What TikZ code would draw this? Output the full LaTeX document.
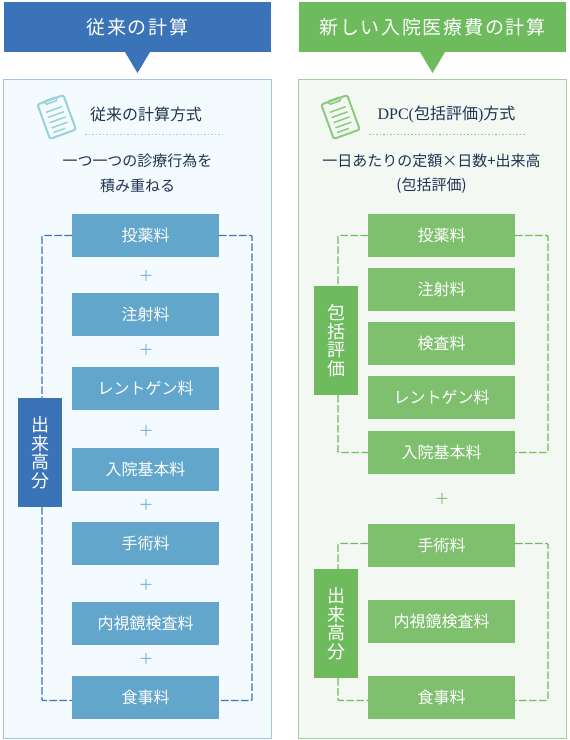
\documentclass[tikz,border=0pt]{standalone}
\usepackage{fontspec}
\setmainfont{Noto Sans CJK JP}
\newfontfamily\latinserif{Liberation Serif}
\definecolor{bluehead}{HTML}{3B73B9}
\definecolor{bluebox}{HTML}{62A7CB}
\definecolor{bluepanel}{HTML}{F3FBFF}
\definecolor{blueline}{HTML}{A6C2E0}
\definecolor{blueplus}{HTML}{6FB3D5}
\definecolor{blueicon}{HTML}{97D2D8}
\definecolor{greenhead}{HTML}{6DBB5D}
\definecolor{greenbox}{HTML}{7FC06E}
\definecolor{greenpanel}{HTML}{F3F8F3}
\definecolor{greenline}{HTML}{A3D096}
\definecolor{greenicon}{HTML}{8CCB7F}
\definecolor{inktext}{HTML}{1F3350}
\begin{document}
\begin{tikzpicture}[x=1pt, y=-1pt]

      \tikzset{panel/.style = {shape=rectangle,draw,line width=1pt,minimum width=268pt,minimum height=659pt,inner sep=0pt}}
      \tikzset{headbox/.style = {shape=rectangle,minimum width=267pt,minimum height=50pt,inner sep=0pt,text=white,font=\fontsize{19}{19}\selectfont\addfontfeature{LetterSpace=9}}}
      \tikzset{item/.style = {shape=rectangle,minimum width=147pt,minimum height=43pt,inner sep=0pt,text=white,font=\fontsize{16}{16}\selectfont}}
      \tikzset{badge/.style = {shape=rectangle,minimum width=44pt,minimum height=109pt,inner sep=0pt,text=white,align=center,font=\fontsize{18}{18.5}\selectfont}}
      \tikzset{plus/.style = {inner sep=0pt,font=\fontsize{15}{15}\selectfont}}
      \tikzset{caption/.style = {inner sep=0pt,text=inktext,font=\fontsize{15}{15}\selectfont}}
      \tikzset{rail/.style = {line width=1.4pt,dash pattern=on 7.5pt off 2.5pt,rounded corners=1pt}}
      \tikzset{clipboard/.pic = {
        \draw[line width=2pt,rounded corners=2pt] (-13.8,-18.3) rectangle (13.8,18.3);
        \draw[line width=1.6pt,rounded corners=1pt] (-6,-19) rectangle (6,-15.5);
        \foreach \y in {-8,-2.5,3,8.5}
          \draw[line width=1.5pt] (-8.5,\y) -- (8.5,\y);
        \draw[line width=1.5pt] (-8.5,13.5) -- (4,13.5);
      }}

      \useasboundingbox (0,0) rectangle (570,740);

      % panels
      \node[panel,draw=blueline,fill=bluepanel] (oldpanel) at (137.5,409) {};
      \node[panel,draw=greenline,fill=greenpanel] (newpanel) at (432.5,409) {};
      % headers
      \node[headbox,fill=bluehead] (oldhead) at (137.5,27) {従来の計算};
      \node[headbox,fill=greenhead] (newhead) at (432.5,27) {新しい入院医療費の計算};
      \fill[bluehead] (125,52) -- (150,52) -- (137.5,73) -- cycle;
      \fill[greenhead] (420,52) -- (445,52) -- (432.5,73) -- cycle;
      % icons
      \pic[draw=blueicon,rotate=20] at (56.7,117) {clipboard};
      \pic[draw=greenicon,rotate=20] at (340.5,117) {clipboard};
      % captions
      \node[caption,font=\fontsize{16}{16}\selectfont] (oldtitle) at (146,114) {従来の計算方式};
      \node[caption,font=\fontsize{16}{16}\selectfont] (newtitle) at (446.5,114) {{\latinserif DPC(}包括評価{\latinserif )}方式};
      \coordinate (olddotl) at (85,134.5);
      \coordinate (olddotr) at (222,134.5);
      \coordinate (newdotl) at (369,134.5);
      \coordinate (newdotr) at (526,134.5);
      \draw[blueicon,line width=1.6pt,dash pattern=on 1.6pt off 1.9pt] (olddotl) -- (olddotr);
      \draw[greenicon,line width=1.6pt,dash pattern=on 1.6pt off 1.9pt] (newdotl) -- (newdotr);
      \node[caption] (oldlinea) at (137.5,161) {一つ一つの診療行為を};
      \node[caption] (oldlineb) at (137.5,186) {積み重ねる};
      \node[caption] (newlinea) at (431.5,161) {一日あたりの定額×日数+出来高};
      \node[caption] (newlineb) at (431.5,186) {(包括評価)};

      % rails
      \coordinate (oldrail) at (252,235.5);
      \coordinate (newrailtop) at (548,235.5);
      \coordinate (newrailbot) at (548,543.5);

      % left items
      \node[item,fill=bluebox] (oldmed) at (145.5,235.5) {投薬料};
      \node[item,fill=bluebox] (oldinj) at (145.5,314.5) {注射料};
      \node[item,fill=bluebox] (oldxray) at (145.5,388.5) {レントゲン料};
      \node[item,fill=bluebox] (oldbase) at (145.5,469.5) {入院基本料};
      \node[item,fill=bluebox] (oldsurg) at (145.5,543.5) {手術料};
      \node[item,fill=bluebox] (oldendo) at (145.5,623.5) {内視鏡検査料};
      \node[item,fill=bluebox] (oldmeal) at (145.5,697.5) {食事料};
      \node[plus,text=blueplus] (plusa) at (146,275.5) {＋};
      \node[plus,text=blueplus] (plusb) at (146,349.5) {＋};
      \node[plus,text=blueplus] (plusc) at (146,430.5) {＋};
      \node[plus,text=blueplus] (plusd) at (146,504.5) {＋};
      \node[plus,text=blueplus] (pluse) at (146,584.5) {＋};
      \node[plus,text=blueplus] (plusf) at (146,658.5) {＋};
      \node[badge,fill=bluehead] (oldextra) at (40,452.5) {出\\来\\高\\分};

      % right items
      \node[item,fill=greenbox] (newmed) at (441.5,235.5) {投薬料};
      \node[item,fill=greenbox] (newinj) at (441.5,289.5) {注射料};
      \node[item,fill=greenbox] (newlab) at (441.5,343.5) {検査料};
      \node[item,fill=greenbox] (newxray) at (441.5,397.5) {レントゲン料};
      \node[item,fill=greenbox] (newbase) at (441.5,452.5) {入院基本料};
      \node[item,fill=greenbox] (newsurg) at (441.5,545.5) {手術料};
      \node[item,fill=greenbox] (newendo) at (441.5,621.5) {内視鏡検査料};
      \node[item,fill=greenbox] (newmeal) at (441.5,697.5) {食事料};
      \node[plus,text=greenbox] (plusg) at (442,498.5) {＋};
      \node[badge,fill=greenhead] (newbundle) at (336,340.5) {包\\括\\評\\価};
      \node[badge,fill=greenhead] (newextra) at (336,623.5) {出\\来\\高\\分};

      %edges
      \draw[rail,bluehead] (oldmed.west) -| ([xshift=2pt]oldextra.north);
      \draw[rail,bluehead] ([xshift=2pt]oldextra.south) |- ([yshift=-3pt]oldmeal.west);
      \draw[rail,bluehead] (oldmed.east) -- (oldrail) |- ([yshift=-3pt]oldmeal.east);
      \draw[rail,greenhead] (newmed.west) -| ([xshift=2pt]newbundle.north);
      \draw[rail,greenhead] ([xshift=2pt]newbundle.south) |- (newbase.west);
      \draw[rail,greenhead] (newmed.east) -- (newrailtop) |- (newbase.east);
      \draw[rail,greenhead] ([yshift=2pt]newsurg.west) -| ([xshift=2pt]newextra.north);
      \draw[rail,greenhead] ([xshift=2pt]newextra.south) |- ([yshift=-3pt]newmeal.west);
      \draw[rail,greenhead] ([yshift=2pt]newsurg.east) -- (newrailbot) |- ([yshift=-3pt]newmeal.east);

\end{tikzpicture}
\end{document}
